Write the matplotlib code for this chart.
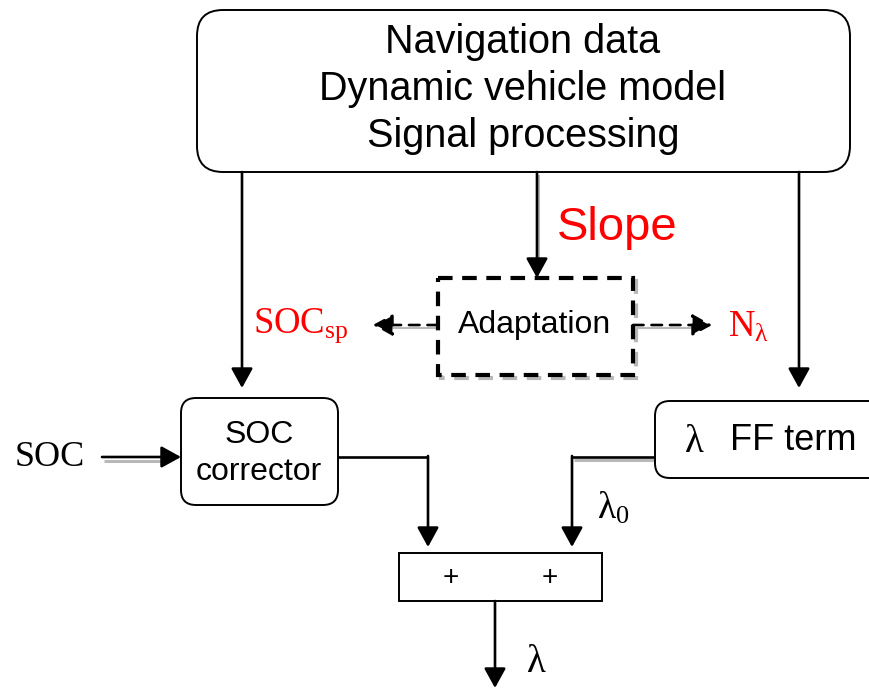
import matplotlib.pyplot as plt
from matplotlib.patches import FancyBboxPatch, Rectangle

plt.rcParams['mathtext.fontset'] = 'custom'
plt.rcParams['mathtext.rm'] = 'Liberation Serif'
plt.rcParams['mathtext.it'] = 'Liberation Serif'

# diagram content (pixel coordinates, y downwards)
top_lines = ['Navigation data', 'Dynamic vehicle model', 'Signal processing']
top_line_y = [42, 89, 136]
sum_signs = ['+', '+']
sum_sign_x = [451, 550]

SANS = 'Liberation Sans'
SERIF = 'Liberation Serif'
RED = '#ff0000'
SHADOW = '#b8b8b8'

fig = plt.figure(figsize=(8.7, 6.88), dpi=100)
ax = fig.add_axes([0, 0, 1, 1])
ax.set_xlim(0, 870)
ax.set_ylim(688, 0)
ax.axis('off')


def rbox(x0, y0, x1, y1, r, lw=1.4):
    ax.add_patch(FancyBboxPatch((x0, y0), x1 - x0, y1 - y0,
                                boxstyle='round,pad=0,rounding_size=%g' % r,
                                fc='white', ec='black', lw=lw, zorder=3))


def arrow(x0, y0, x1, y1, ls='-', color='black', lw=1.9, z=4):
    ax.annotate('', xy=(x1, y1), xytext=(x0, y0), annotation_clip=False,
                arrowprops=dict(arrowstyle='-|>,head_length=0.6,head_width=0.33',
                                mutation_scale=20,
                                color=color, lw=lw, linestyle=ls,
                                shrinkA=0, shrinkB=0), zorder=z)


def line(xs, ys, color='black', lw=1.9, z=4):
    ax.plot(xs, ys, color=color, lw=lw, solid_capstyle='butt', zorder=z)


# top box
rbox(197, 10, 850, 172, 26)
for t, y in zip(top_lines, top_line_y):
    ax.text(523, y, t, family=SANS, fontsize=28.5, ha='center', va='center', zorder=5)

# arrows from the top box
arrow(242, 172, 242, 388)
arrow(537, 172, 537, 278)
line([539.5, 539.5], [175, 262], color=SHADOW, lw=1.5, z=2)
arrow(799, 172, 799, 388)

ax.text(557, 228, 'Slope', family=SANS, fontsize=34, color=RED, ha='left', va='center')

# adaptation box (dashed with shadow)
ax.add_patch(Rectangle((441, 281), 195, 97, fc='none', ec=SHADOW, lw=3,
                       ls=(0, (3.5, 2.3)), zorder=2))
ax.add_patch(Rectangle((438, 278), 195, 97, fc='white', ec='black', lw=3,
                       ls=(0, (3.5, 2.3)), zorder=3))
ax.text(535, 325, 'Adaptation', family=SANS, fontsize=23, ha='center', va='center', zorder=5)

# dashed outputs
line([438, 392], [328, 328], color=SHADOW, lw=1.5, z=2)
arrow(438, 325, 373, 325, ls=(0, (4, 3)))
line([634, 700], [328, 328], color=SHADOW, lw=1.5, z=2)
arrow(633, 325, 712, 325, ls=(0, (4, 3)))

ax.text(253, 326, r'$\mathrm{SOC}_{\mathrm{sp}}$', fontsize=26.5, color=RED, ha='left', va='center')
ax.text(728, 326, r'$\mathrm{N}_{\mathrm{λ}}$', fontsize=26.5, color=RED, ha='left', va='center')

# SOC corrector
rbox(181, 398, 338, 505, 15)
ax.text(259, 435, 'SOC', family=SANS, fontsize=23, ha='center', va='center', zorder=5)
ax.text(259, 472, 'corrector', family=SANS, fontsize=23, ha='center', va='center', zorder=5)

ax.text(50, 457, 'SOC', family=SERIF, fontsize=26, ha='center', va='center')
line([104, 165], [461, 461], color=SHADOW, lw=2.2, z=2)
arrow(102, 457, 181, 457)

# lambda FF term box
rbox(655, 401, 900, 478, 15)
ax.text(694, 442, 'λ', family=SERIF, fontsize=28, ha='center', va='center', zorder=5)
ax.text(730, 440, 'FF term', family=SANS, fontsize=26, ha='left', va='center', zorder=5)

# into the summation
line([338, 428], [457, 457])
arrow(428, 456, 428, 547)
line([574, 655], [460, 460], color=SHADOW, lw=2.2, z=2)
line([655, 572], [457, 457])
arrow(572, 456, 572, 547)
ax.text(597, 508, r'$\mathrm{λ}_{\mathrm{0}}$', fontsize=27, ha='left', va='center')

# summation box
ax.add_patch(Rectangle((399, 553), 203, 48, fc='white', ec='black', lw=1.4, zorder=3))
for s, x in zip(sum_signs, sum_sign_x):
    ax.text(x, 578, s, family=SANS, fontsize=20, ha='center', va='center', zorder=5)

arrow(495, 601, 495, 688)
ax.text(527, 662, 'λ', family=SERIF, fontsize=28, ha='left', va='center')

fig.savefig('out.png', dpi=100)
